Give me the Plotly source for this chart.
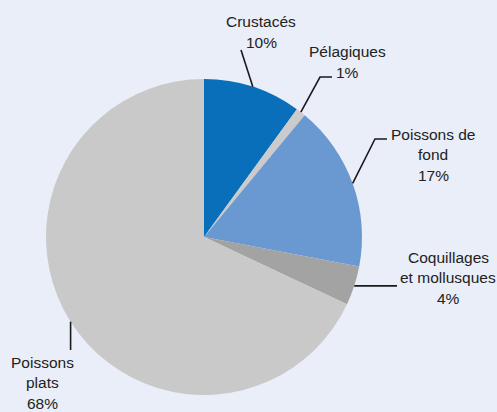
import math
import plotly.graph_objects as go

# Parts des captures par groupe d'espèces (%)
categories = ["Crustacés", "Pélagiques", "Poissons de fond", "Coquillages et mollusques", "Poissons plats"]
values = [10, 1, 17, 4, 68]
label_lines = [
    ["Crustacés", "10%"],
    ["Pélagiques", "1%"],
    ["Poissons de", "fond", "17%"],
    ["Coquillages", "et mollusques", "4%"],
    ["Poissons", "plats", "68%"],
]
colors = ["#0a6fba", "#cbcbcb", "#6a98d0", "#a3a3a3", "#c9c9c9"]

W, H = 497, 412
BG = "#e9eef8"
FONT = "Liberation Sans, Arial, sans-serif"

# pie placement in pixels
cx, cy, R = 204, 237, 158


def px(x):
    return x / W


def py(y):
    return 1 - y / H


fig = go.Figure(
    go.Pie(
        labels=categories,
        values=values,
        sort=False,
        direction="clockwise",
        rotation=0,
        marker=dict(colors=colors, line=dict(width=0)),
        textinfo="none",
        hoverinfo="label+percent",
        domain=dict(x=[px(cx - R), px(cx + R)], y=[py(cy + R), py(cy - R)]),
        showlegend=False,
    )
)

# edge point at the middle of each slice, from the data
total = sum(values)
edges = []
acc = 0
for v in values:
    mid = (acc + v / 2) / total * 2 * math.pi
    edges.append((cx + R * math.sin(mid), cy - R * math.cos(mid)))
    acc += v

# leader routes (after the edge point) and label centres
routes = [
    [(241, 50)],
    [(320, 77), (332, 77)],
    [(375, 139), (387, 139)],
    [("h", 397)],
    [("v", 350)],
]
text_pos = [
    (261, 22),
    (347, 52),
    (433, 134),
    (448, 257),
    (42, 362),
]
LINE_H = 20.8

shapes = []
annotations = []
for i, (ex, ey) in enumerate(edges):
    pts = [(ex, ey)]
    for p in routes[i]:
        if p[0] == "h":
            pts.append((p[1], ey))
        elif p[0] == "v":
            pts.append((ex, p[1]))
        else:
            pts.append(p)
    path = "M " + " L ".join(f"{px(x):.5f},{py(y):.5f}" for x, y in pts)
    shapes.append(dict(type="path", path=path, xref="paper", yref="paper",
                       line=dict(color="#1a1a1a", width=1.6)))
    tx, ty = text_pos[i]
    for j, line in enumerate(label_lines[i]):
        annotations.append(dict(
            x=px(tx), y=py(ty + j * LINE_H), xref="paper", yref="paper",
            text=line, showarrow=False, xanchor="center", yanchor="middle",
            font=dict(family=FONT, size=15.5, color="#222222"),
        ))

fig.update_layout(
    width=W, height=H,
    margin=dict(l=0, r=0, t=0, b=0),
    paper_bgcolor=BG, plot_bgcolor=BG,
    shapes=shapes, annotations=annotations,
)

fig.write_html("out.html")
